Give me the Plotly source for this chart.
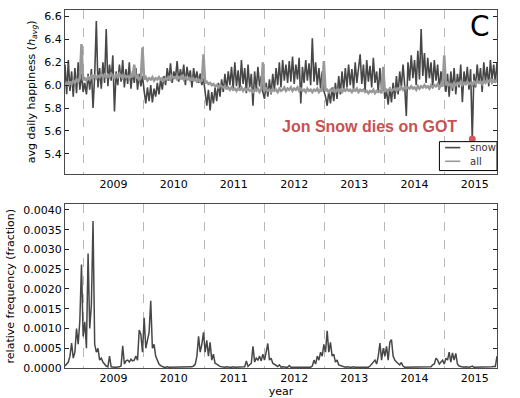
import datetime as dt
import plotly.graph_objects as go

# Daily series sampled every 10 days from 2008-09-10
start = dt.date(2008, 9, 10)
step_days = 10

# Average happiness of tweets containing "snow"
snow_happiness = [
    # 2008
    6.18, 5.92, 6.22, 5.95, 6.12, 5.90, 6.15, 5.93, 6.20, 5.96, 6.10, 5.94,
    # 2009
    6.02, 5.92, 6.10, 5.96, 6.14, 5.80, 6.08, 6.56, 5.98, 6.15, 5.97, 6.20,
    6.02, 6.49, 5.99, 6.18, 6.04, 6.26, 5.77, 6.12, 6.00, 6.18, 6.03, 6.22,
    5.98, 6.14, 6.01, 6.20, 5.97, 6.12, 6.02, 6.15, 5.96, 6.10, 5.99, 6.08,
    # 2010
    5.95, 5.84, 5.98, 5.86, 6.00, 5.85, 5.97, 5.90, 6.02, 5.92, 6.05, 5.96, 6.08,
    6.00, 6.15, 6.04, 6.19, 6.02, 6.12, 6.06, 6.21, 6.03, 6.14, 6.05, 6.18,
    6.00, 6.16, 6.06, 6.13, 5.98, 6.15, 6.04, 6.12, 6.02, 6.10, 6.00, 6.06,
    # 2011
    5.92, 5.82, 5.96, 5.78, 5.94, 5.84, 5.98, 5.86, 6.02, 5.90, 6.05, 5.94,
    6.10, 5.96, 6.12, 6.00,
    6.16, 5.97, 6.20, 5.99, 6.13, 5.95, 6.22, 6.01, 6.15, 5.93, 6.18, 5.98,
    6.10, 5.82, 6.12, 5.96, 6.16, 5.99, 6.08, 5.94,
    # 2012
    5.88, 6.02, 5.90, 6.05, 5.92, 6.10, 5.95, 6.15, 6.00, 6.20, 5.98, 6.22,
    6.04, 6.18, 6.02,
    6.21, 6.03, 6.25, 6.01, 6.18, 6.05, 6.24, 5.84, 6.16, 6.02, 6.22, 6.04,
    6.19, 6.00, 6.41, 6.03, 6.20, 6.00, 6.15, 5.97, 6.12, 5.95,
    # 2013
    5.90, 5.82, 5.95, 5.84, 5.98, 5.86, 6.02, 5.88, 6.08, 5.92, 6.12, 5.95,
    6.15, 5.98, 6.18,
    6.00, 6.14, 5.96, 6.20, 6.02, 6.16, 6.27, 6.01, 6.18, 5.95, 6.22, 6.03,
    6.17, 5.98, 6.24, 6.02, 6.12, 5.94, 6.15, 5.97, 6.08,
    # 2014
    5.88, 5.95, 5.83, 5.98, 5.85, 6.02, 5.88, 6.08, 5.92, 6.12, 5.98, 6.18,
    6.00, 5.73,
    6.20, 6.04, 6.26, 6.06, 6.22, 6.00, 6.30, 6.05, 6.49, 6.08, 6.28, 6.02,
    6.24, 6.06, 6.20, 5.98, 6.22, 6.04, 6.18, 5.96, 6.12, 6.00, 6.08,
    # 2015
    5.94, 6.10, 5.90, 6.12, 5.95, 6.15, 5.92, 6.10, 5.98, 6.18, 5.85, 6.12,
    6.00, 6.16, 5.96, 6.14, 5.53, 6.10, 5.98, 6.18, 6.02, 6.15, 5.94, 6.20,
    6.03, 6.16, 5.99, 6.22, 6.05, 6.18, 6.02, 6.20,
]

# Average happiness of all tweets
all_happiness = [
    # 2008
    6.00, 6.02, 5.99, 6.03, 6.01, 6.04, 6.02, 6.05, 6.03, 6.06, 6.36, 6.04,
    # 2009
    6.06, 6.04, 6.07, 6.05, 6.08, 6.06, 6.09, 6.06, 6.08, 6.07, 6.10, 6.07,
    6.09, 6.06, 6.09, 6.07, 6.10, 6.08, 6.06, 6.09, 6.07, 6.10, 6.08, 6.06,
    6.09, 6.07, 6.08, 6.06, 6.09, 6.07, 6.18, 6.06, 6.08, 6.05, 6.07, 6.33,
    # 2010
    6.05, 6.07, 6.04, 6.06, 6.05, 6.07, 6.04, 6.06, 6.05, 6.07, 6.05, 6.06, 6.04,
    6.06, 6.05, 6.07, 6.05, 6.08, 6.06, 6.07, 6.05, 6.07, 6.06, 6.08, 6.05,
    6.07, 6.05, 6.06, 6.04, 6.06, 6.04, 6.05, 6.03, 6.05, 6.03, 6.04, 6.27,
    # 2011
    6.02, 6.03, 6.01, 6.02, 6.00, 6.01, 5.99, 6.00, 5.98, 6.00, 5.99, 5.98,
    5.99, 5.97, 5.98, 5.96,
    5.98, 5.96, 5.97, 5.95, 5.97, 5.96, 5.98, 5.95, 5.97, 5.96, 5.97, 5.95,
    5.96, 5.94, 5.96, 5.95, 5.97, 5.94, 5.96, 6.20,
    # 2012
    5.95, 5.97, 5.95, 5.96, 5.94, 5.97, 5.95, 5.96, 5.94, 5.97, 5.95, 5.96,
    5.98, 5.95, 5.97,
    5.96, 5.98, 5.95, 5.97, 5.96, 5.98, 5.95, 5.97, 5.95, 5.96, 5.94, 5.97,
    5.95, 5.96, 5.94, 5.96, 5.95, 5.97, 5.94, 5.96, 5.95, 6.21,
    # 2013
    5.95, 5.96, 5.94, 5.96, 5.95, 5.97, 5.94, 5.96, 5.95, 5.96, 5.94, 5.96,
    5.95, 5.97, 5.95,
    5.96, 5.94, 5.96, 5.95, 5.97, 5.94, 5.96, 5.95, 5.96, 5.94, 5.95, 5.93,
    5.95, 5.94, 5.96, 5.93, 5.95, 5.94, 5.95, 5.93, 6.16,
    # 2014
    5.94, 5.96, 5.95, 5.97, 5.95, 5.96, 5.97, 5.95, 5.97, 5.96, 5.98, 5.96,
    5.98, 5.97,
    5.98, 5.97, 5.99, 5.97, 5.98, 5.96, 5.99, 5.97, 5.99, 5.98, 6.00, 5.98,
    5.99, 5.97, 6.00, 5.98, 6.00, 5.99, 6.01, 5.98, 6.00, 5.99, 6.26,
    # 2015
    6.00, 6.02, 6.00, 6.01, 5.99, 6.02, 6.00, 6.02, 6.01, 6.03, 6.00, 6.02,
    6.01, 6.03, 6.01, 6.02, 6.00, 6.03, 6.01, 6.04, 6.02, 6.03, 6.01, 6.04,
    6.02, 6.04, 6.03, 6.05, 6.02, 6.04, 6.03, 6.05,
]

# Relative frequency of the word "snow"
snow_frequency = [
    # autumn 2008 - spring 2009
    0.00005, 0.00010, 0.00015, 0.00030, 0.00063, 0.00025, 0.00040, 0.00100,
    0.00060, 0.00120, 0.00262, 0.00080, 0.00117, 0.00050, 0.00290, 0.00100,
    0.00160, 0.00372, 0.00060, 0.00040, 0.00050, 0.00020, 0.00025, 0.00015,
    0.00010, 0.00005, 0.00003, 0.00030, 0.00003, 0.00002, 0.00002, 0.00002,
    0.00002, 0.00003, 0.00005,
    # winter 2009-10
    0.00056, 0.00010, 0.00018, 0.00020, 0.00015, 0.00022, 0.00018, 0.00020,
    0.00030, 0.00020, 0.00096, 0.00085, 0.00040, 0.00127, 0.00050, 0.00070,
    0.00090, 0.00170, 0.00050, 0.00060, 0.00030, 0.00020, 0.00010, 0.00006,
    0.00003,
    # summer 2010
    0.00002, 0.00002, 0.00003, 0.00002, 0.00002, 0.00002, 0.00003, 0.00002,
    0.00002, 0.00002, 0.00002, 0.00003, 0.00002, 0.00002, 0.00002, 0.00003,
    0.00002, 0.00003,
    # winter 2010-11
    0.00005, 0.00010, 0.00030, 0.00080, 0.00040, 0.00060, 0.00090, 0.00040,
    0.00070, 0.00030, 0.00065, 0.00020, 0.00035, 0.00012, 0.00010, 0.00006,
    0.00004,
    # summer 2011
    0.00003, 0.00002, 0.00002, 0.00003, 0.00002, 0.00002, 0.00002, 0.00003,
    0.00002, 0.00002, 0.00003, 0.00002, 0.00002, 0.00003, 0.00003,
    # winter 2011-12
    0.00018, 0.00004, 0.00008, 0.00012, 0.00055, 0.00015, 0.00025, 0.00020,
    0.00030, 0.00018, 0.00035, 0.00020, 0.00040, 0.00062, 0.00020, 0.00025,
    0.00012, 0.00010, 0.00006, 0.00004, 0.00008,
    # summer 2012
    0.00002, 0.00003, 0.00002, 0.00002, 0.00002, 0.00006, 0.00002, 0.00002,
    0.00003, 0.00002, 0.00002, 0.00002, 0.00003, 0.00002, 0.00002, 0.00002,
    0.00003, 0.00002, 0.00002,
    # winter 2012-13
    0.00005, 0.00020, 0.00010, 0.00030, 0.00020, 0.00040, 0.00030, 0.00060,
    0.00040, 0.00094, 0.00040, 0.00065, 0.00030, 0.00035, 0.00015, 0.00020,
    0.00008, 0.00006, 0.00004,
    # summer 2013
    0.00002, 0.00002, 0.00003, 0.00002, 0.00002, 0.00002, 0.00003, 0.00002,
    0.00002, 0.00002, 0.00003, 0.00002, 0.00002, 0.00002, 0.00003, 0.00002,
    # winter 2013-14
    0.00005, 0.00010, 0.00015, 0.00020, 0.00010, 0.00030, 0.00063, 0.00020,
    0.00050, 0.00030, 0.00055, 0.00020, 0.00065, 0.00072, 0.00030, 0.00020,
    0.00015, 0.00012, 0.00008, 0.00014, 0.00005,
    # summer 2014
    0.00002, 0.00002, 0.00003, 0.00002, 0.00002, 0.00002, 0.00003, 0.00002,
    0.00002, 0.00002, 0.00003, 0.00002, 0.00002, 0.00002, 0.00003, 0.00002,
    # winter 2014-15
    0.00003, 0.00008, 0.00010, 0.00025, 0.00020, 0.00010, 0.00015, 0.00020,
    0.00010, 0.00025, 0.00020, 0.00040, 0.00015, 0.00038, 0.00020, 0.00037,
    0.00010, 0.00005, 0.00004,
    # summer - autumn 2015
    0.00003, 0.00002, 0.00003, 0.00002, 0.00002, 0.00003, 0.00005, 0.00002,
    0.00002, 0.00003, 0.00002, 0.00002, 0.00003, 0.00002, 0.00002, 0.00003,
    0.00002, 0.00002, 0.00003, 0.00004, 0.00004, 0.00030,
]

years = [2009, 2010, 2011, 2012, 2013, 2014, 2015]
year_labels = [str(y) for y in years]
happiness_ticks = [5.4, 5.6, 5.8, 6.0, 6.2, 6.4, 6.6]
frequency_ticks = [0.0, 0.0005, 0.0010, 0.0015, 0.0020, 0.0025, 0.0030, 0.0035, 0.0040]
series_names = ["snow", "all"]
series_colors = ["#474747", "#999999"]
event_label = "Jon Snow dies on GOT"


def sample_dates(n):
    return [start + dt.timedelta(days=step_days * i) for i in range(n)]


snow_dates = sample_dates(len(snow_happiness))
all_dates = sample_dates(len(all_happiness))
freq_dates = sample_dates(len(snow_frequency))
x_end = max(snow_dates[-1], all_dates[-1], freq_dates[-1])

# the sharp drop in "snow" happiness
event_idx = min(range(len(snow_happiness)), key=lambda i: snow_happiness[i])

FONT = "DejaVu Sans"
FRAME = "#4a4a4a"

fig = go.Figure()
fig.add_trace(go.Scatter(x=snow_dates, y=snow_happiness, mode="lines", name=series_names[0],
                         line=dict(color=series_colors[0], width=1.6), xaxis="x", yaxis="y"))
fig.add_trace(go.Scatter(x=all_dates, y=all_happiness, mode="lines", name=series_names[1],
                         line=dict(color=series_colors[1], width=2.5), xaxis="x", yaxis="y"))
fig.add_trace(go.Scatter(x=[snow_dates[event_idx]], y=[snow_happiness[event_idx]],
                         mode="markers",
                         marker=dict(color="#d05a5a", size=7), xaxis="x", yaxis="y"))
fig.add_trace(go.Scatter(x=freq_dates, y=snow_frequency, mode="lines",
                         line=dict(color="#474747", width=1.5), xaxis="x2", yaxis="y2"))

mid_years = [dt.date(y, 7, 1) for y in years]
year_starts = [dt.date(y, 1, 1) for y in years]

xcommon = dict(
    type="date", range=[start, x_end], tickvals=mid_years, ticktext=year_labels,
    ticks="", showgrid=False, zeroline=False, showline=True, mirror=True,
    linecolor=FRAME, linewidth=1.3, tickfont=dict(size=11, color="black"),
    automargin=False,
    minor=dict(tickvals=year_starts, showgrid=True, griddash="dash",
               gridcolor="#b8b8b8", gridwidth=1, ticks=""),
)
ycommon = dict(
    ticks="inside", ticklen=4, tickcolor="#222", mirror="allticks", showline=True,
    linecolor=FRAME, linewidth=1.3, showgrid=False, zeroline=False,
    tickfont=dict(size=11, color="black"),
)

fig.update_layout(
    width=520, height=398,
    margin=dict(l=62, r=23, t=9, b=30),
    paper_bgcolor="white", plot_bgcolor="white",
    font=dict(family=FONT, size=11, color="black"),
    showlegend=False,
    xaxis=dict(xcommon, domain=[0, 1], anchor="y"),
    yaxis=dict(ycommon, domain=[0.543, 1.0], range=[5.227, 6.657],
               tickvals=happiness_ticks, ticktext=[f"{v:.1f}" for v in happiness_ticks],
               title=dict(text="avg daily happiness (<i>h</i><sub><i>avg</i></sub>)",
                          font=dict(size=11), standoff=6)),
    xaxis2=dict(xcommon, domain=[0, 1], anchor="y2",
                title=dict(text="year", font=dict(size=11), standoff=3)),
    yaxis2=dict(ycommon, domain=[0.0, 0.457], range=[0, 0.00414],
                tickvals=frequency_ticks, ticktext=[f"{v:.4f}" for v in frequency_ticks],
                title=dict(text="relative frequency (fraction)", font=dict(size=11), standoff=6)),
)

fig.add_annotation(text="C", xref="paper", yref="paper", x=0.961, y=0.955,
                   xanchor="center", yanchor="middle", showarrow=False,
                   font=dict(size=28, color="black", family=FONT))
fig.add_annotation(text=f"<b>{event_label}</b>", xref="paper", yref="paper",
                   x=0.7046, y=0.675, xanchor="center", yanchor="middle", showarrow=False,
                   font=dict(size=16, color="#c85252", family="Liberation Sans"))

# legend box in the lower-right corner of the top panel
fig.add_shape(type="rect", xref="paper", yref="paper", x0=0.8667, x1=1.0, y0=0.5515, y1=0.6323,
              line=dict(color="black", width=1), fillcolor="white", layer="above")
legend_rows = [0.6156, 0.5774]
for name, color, yy in zip(series_names, series_colors, legend_rows):
    fig.add_shape(type="line", xref="paper", yref="paper", x0=0.880, x1=0.915, y0=yy, y1=yy,
                  line=dict(color=color, width=1.6), layer="above")
    fig.add_annotation(text=name, xref="paper", yref="paper", x=0.933, y=yy,
                       xanchor="left", yanchor="middle", showarrow=False,
                       font=dict(size=10, color="#333", family=FONT))

fig.write_html("out.html")
